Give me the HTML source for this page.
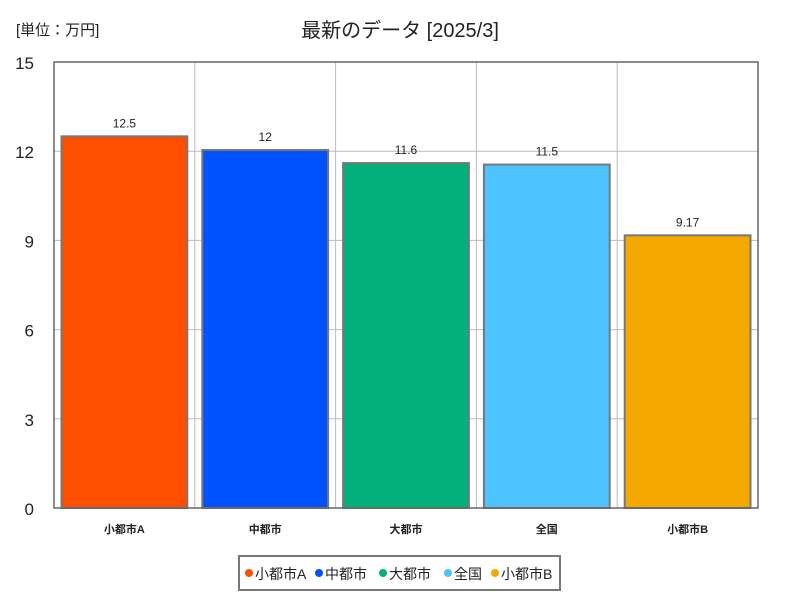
<!DOCTYPE html>
<html><head><meta charset="utf-8"><style>
body{margin:0;background:#fff;width:800px;height:600px;overflow:hidden}
svg text{font-family:"Liberation Sans","Noto Sans CJK JP",sans-serif}
</style></head><body>
<svg id="c" width="800" height="600"></svg>
<script>
const categories=["小都市A","中都市","大都市","全国","小都市B"];
const values=[12.5,12.04,11.6,11.55,9.17];
const valueLabels=["12.5","12","11.6","11.5","9.17"];
const colors=["#ff4e00","#0052ff","#04b07b","#4dc3ff","#f5a800"];
const yTicks=[0,3,6,9,12,15];
const ns="http://www.w3.org/2000/svg";
const svg=document.getElementById('c');
const L=54,R=758,T=62,B=508,ymax=15;
const y=v=>B-(v/ymax)*(B-T);
const bw=(R-L)/categories.length;
const xb=i=>L+i*bw;
function el(t,a,txt){const e=document.createElementNS(ns,t);for(const k in a)e.setAttribute(k,a[k]);if(txt!==undefined)e.textContent=txt;svg.appendChild(e);return e;}
let e;
e=el('text',{x:400,y:37,'text-anchor':'middle','font-size':20,fill:'#222'},'最新のデータ [2025/3]');


e=el('text',{x:16,y:35,'font-size':15,fill:'#222'},'[単位：万円]');


e=el('rect',{x:L,y:T,width:R-L,height:B-T,fill:'#fff',stroke:'none'});


yTicks.forEach(t=>{
  e=el('line',{x1:L,x2:R,y1:y(t),y2:y(t),stroke:'#bbb','stroke-width':1});
  
  
  e=el('text',{x:34,y:y(t)+7,'text-anchor':'end','font-size':17,fill:'#222'},String(t));
  
  
});
for(let i=1;i<categories.length;i++){
  e=el('line',{x1:xb(i),x2:xb(i),y1:T,y2:B,stroke:'#bbb','stroke-width':1});
  
  
}
categories.forEach((c,i)=>{
  e=el('rect',{x:xb(i)+7.5,y:y(values[i]),width:bw-15,height:B-y(values[i]),fill:colors[i],stroke:'#777','stroke-width':2});
  
  
  e=el('text',{x:xb(i)+bw/2,y:y(values[i])-9,'text-anchor':'middle','font-size':12,fill:'#222'},valueLabels[i]);
  
  
  e=el('text',{x:xb(i)+bw/2,y:533,'text-anchor':'middle','font-size':11,'font-weight':'bold',fill:'#222'},c);
  
  
});
e=el('rect',{x:L,y:T,width:R-L,height:B-T,fill:'none',stroke:'#666','stroke-width':1.5});


e=el('rect',{x:239,y:556,width:321,height:34,fill:'#fff',stroke:'#777','stroke-width':2});


const lx=[249,319,383,448,495];
categories.forEach((c,i)=>{
  e=el('circle',{cx:lx[i],cy:573,r:4,fill:colors[i]});
  
  
  e=el('text',{x:lx[i]+6,y:579,'font-size':14,fill:'#222'},c);
  
  
});
</script>
</body></html>
